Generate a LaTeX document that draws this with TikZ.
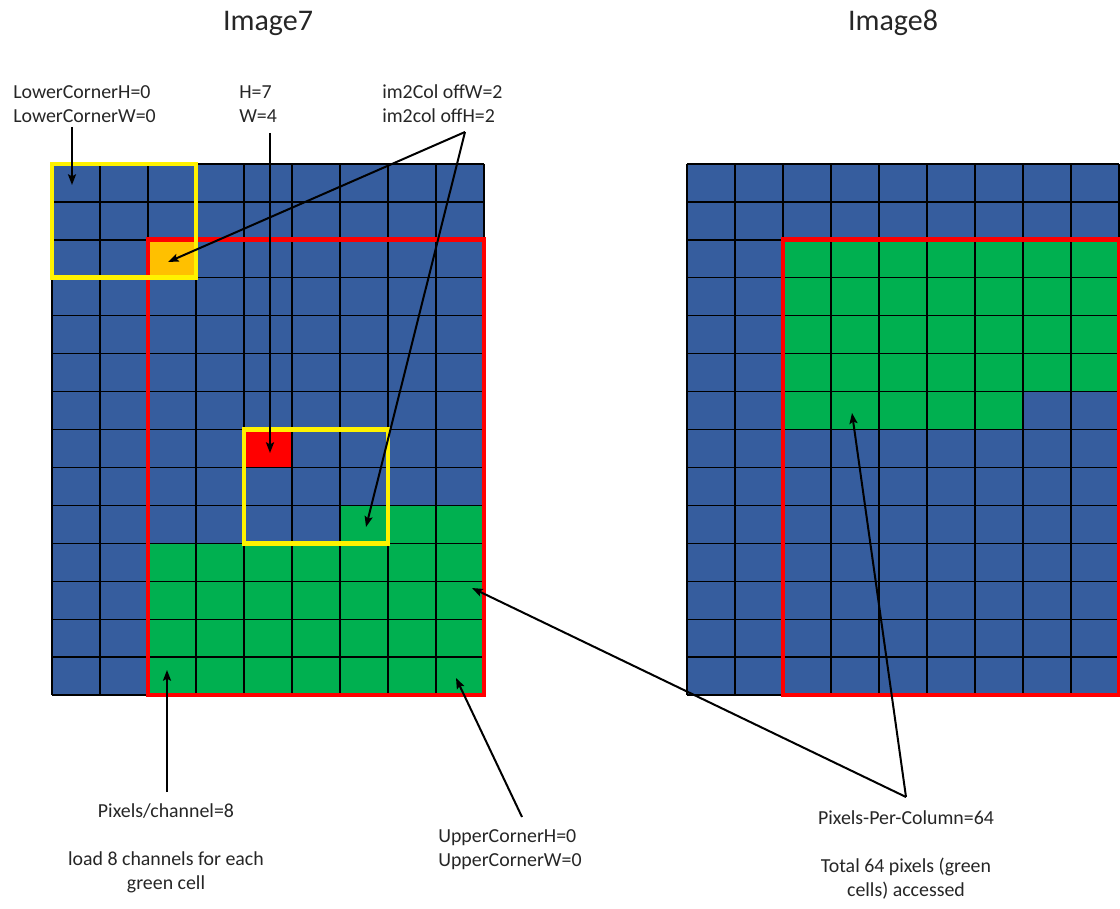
\documentclass[tikz,border=0pt]{standalone}
\usepackage{fontspec}
\setmainfont{Carlito}
\usetikzlibrary{arrows.meta}
\definecolor{cellblue}{RGB}{54,93,158}
\definecolor{cellgreen}{RGB}{0,176,80}
\definecolor{cellorange}{RGB}{255,192,0}
\definecolor{inkgray}{RGB}{38,38,38}

\begin{document}
\begin{tikzpicture}[x=0.75pt,y=-0.75pt,>={Stealth[length=8pt,width=6pt,inset=1.5pt]},
  title/.style={font=\fontsize{22.5}{27}\selectfont, text=inkgray, inner sep=0pt, anchor=base},
  lbl/.style={font=\fontsize{14.9}{18}\selectfont, text=inkgray, inner sep=0pt},
  ptr/.style={->, line width=1.5pt},
  cellgrid/.style={line width=1pt},
  frame/.style={line width=3.6pt}]
\useasboundingbox (0,0) rectangle (1120,909);

\node[title] (img7) at (268,31) {Image7};
\node[title] (img8) at (893,31) {Image8};

% left image, one unit = one cell
\begin{scope}[shift={(52,164)}, x=36pt, y=-28.45pt]
\fill[cellblue] (0,0) rectangle (9,14);
\fill[cellgreen] (6,9) rectangle (9,10) (2,10) rectangle (9,14);
\fill[cellorange] (2,2) rectangle (3,3);
\fill[red] (4,7) rectangle (5,8);
\foreach \i in {0,...,9} \draw[cellgrid] (\i,0) -- (\i,14);
\foreach \j in {0,...,14} \draw[cellgrid] (0,\j) -- (9,\j);
\draw[frame, red] (2,2) rectangle (9,14);
\draw[frame, yellow] (0,0) rectangle (3,3);
\draw[frame, yellow] (4,7) rectangle (7,10);
\end{scope}

% right image
\begin{scope}[shift={(687,164)}, x=36pt, y=-28.45pt]
\fill[cellblue] (0,0) rectangle (9,14);
\fill[cellgreen] (2,2) rectangle (9,6) (2,6) rectangle (7,7);
\foreach \i in {0,...,9} \draw[cellgrid] (\i,0) -- (\i,14);
\foreach \j in {0,...,14} \draw[cellgrid] (0,\j) -- (9,\j);
\draw[frame, red] (2,2) rectangle (9,14);
\end{scope}

\node[lbl, align=left, anchor=north west] (lowc) at (13,85) {LowerCornerH=0\\LowerCornerW=0};
\node[lbl, align=left, anchor=north west] (hw) at (239,85) {H=7\\W=4};
\node[lbl, align=left, anchor=north west] (offs) at (382,84) {im2Col offW=2\\im2col offH=2};
\node[lbl, align=center, anchor=north] (pixchan) at (166,803) {Pixels/channel=8\\[18pt]load 8 channels for each\\green cell};
\node[lbl, align=left, anchor=north west] (upc) at (438,829) {UpperCornerH=0\\UpperCornerW=0};
\node[lbl, align=center, anchor=north] (ppc) at (906,810) {Pixels-Per-Column=64\\[18pt]Total 64 pixels (green\\cells) accessed};

\coordinate (lowtail) at (72,127);
\coordinate (lowtip) at (72,185);
\coordinate (hwtail) at (270,133);
\coordinate (hwtip) at (270,453);
\coordinate (offapex) at (465,132);
\coordinate (orangetip) at (168,262);
\coordinate (offtip) at (366,527);
\coordinate (pixtail) at (167,792);
\coordinate (pixtip) at (167,670);
\coordinate (uptail) at (522,817);
\coordinate (uptip) at (456,678);
\coordinate (ppcapex) at (906,797);
\coordinate (ppctipl) at (472,588);
\coordinate (ppctipr) at (852,413);

\draw[ptr] (lowtail) -- (lowtip);
\draw[ptr] (hwtail) -- (hwtip);
\draw[ptr] (offapex) -- (orangetip);
\draw[ptr] (offapex) -- (offtip);
\draw[ptr] (pixtail) -- (pixtip);
\draw[ptr] (uptail) -- (uptip);
\draw[ptr] (ppcapex) -- (ppctipl);
\draw[ptr] (ppcapex) -- (ppctipr);
\end{tikzpicture}
\end{document}
